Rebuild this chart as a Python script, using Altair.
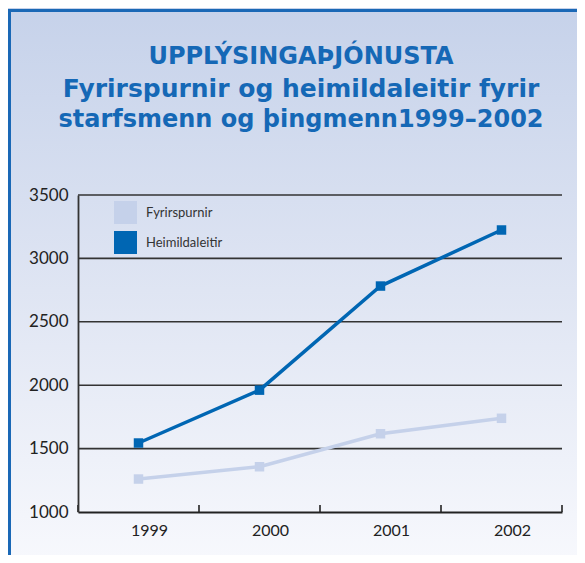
import altair as alt
import pandas as pd

years = ["1999", "2000", "2001", "2002"]
fyrirspurnir = [1260, 1357, 1617, 1739]
heimildaleitir = [1544, 1961, 2782, 3224]
series_names = ["Fyrirspurnir", "Heimildaleitir"]
series_colors = ["#c5d1ea", "#0066b3"]
y_ticks = [1000, 1500, 2000, 2500, 3000, 3500]
grid_values = [1500, 2000, 2500, 3000, 3500]

title_lines = [
    "UPPLÝSINGAÞJÓNUSTA",
    "Fyrirspurnir og heimildaleitir fyrir",
    "starfsmenn og þingmenn1999–2002",
]

W, H = 484, 317

df = pd.DataFrame({
    "year": years * 2,
    "value": fyrirspurnir + heimildaleitir,
    "series": [series_names[0]] * len(years) + [series_names[1]] * len(years),
})
grid_df = pd.DataFrame({"v": grid_values})
tick_df = pd.DataFrame({"year": years})
one = pd.DataFrame({"a": [0]})

xscale = alt.Scale(type="band", domain=years, paddingInner=0, paddingOuter=0)
yscale = alt.Scale(domain=[1000, 3500], nice=False, zero=False)
cscale = alt.Scale(domain=series_names, range=series_colors)

gradient = alt.LinearGradient(
    gradient="linear",
    stops=[
        alt.GradientStop(color="#c6d2ea", offset=0),
        alt.GradientStop(color="#dfe5f3", offset=0.5),
        alt.GradientStop(color="#f8f9fd", offset=1),
    ],
    x1=0, x2=0, y1=0, y2=1,
)

bg = alt.Chart(one).mark_rect(fill=gradient).encode(
    x=alt.value(-70), x2=alt.value(W + 30), y=alt.value(-187), y2=alt.value(H + 60)
)
frame = alt.Chart(one).mark_rect(fill="transparent", stroke="#1a68b6", strokeWidth=3).encode(
    x=alt.value(-68.5), x2=alt.value(W + 80), y=alt.value(-184.5), y2=alt.value(H + 80)
)

title_color = "#1568b6"
title_font = "DejaVu Sans"
t1 = alt.Chart(one).mark_text(
    font=title_font, fontSize=24, fontWeight="bold", color=title_color,
    align="center", baseline="alphabetic",
).encode(x=alt.value(223), y=alt.value(-131), text=alt.value(title_lines[0]))
t2 = alt.Chart(one).mark_text(
    font=title_font, fontSize=25, fontWeight="bold", color=title_color,
    align="center", baseline="alphabetic",
).encode(x=alt.value(223), y=alt.value(-98), text=alt.value(title_lines[1]))
t3 = alt.Chart(one).mark_text(
    font=title_font, fontSize=24, fontWeight="bold", color=title_color,
    align="center", baseline="alphabetic",
).encode(x=alt.value(223), y=alt.value(-68), text=alt.value(title_lines[2]))

grid = alt.Chart(grid_df).mark_rule(color="#333333", strokeWidth=1.6).encode(
    y=alt.Y("v:Q", scale=yscale),
    x=alt.value(0), x2=alt.value(W),
)

ticks_left = alt.Chart(tick_df).mark_rule(color="#222222", strokeWidth=1.6).encode(
    x=alt.X("year:O", scale=xscale, bandPosition=0),
    y=alt.value(H), y2=alt.value(H - 7),
)
ticks_right = alt.Chart(tick_df[tick_df["year"] == years[-1]]).mark_rule(color="#222222", strokeWidth=1.6).encode(
    x=alt.X("year:O", scale=xscale, bandPosition=1),
    y=alt.value(H), y2=alt.value(H - 7),
)
x_labels = alt.Chart(tick_df).mark_text(
    font="Lato", fontSize=16, color="#222222", align="center", baseline="alphabetic", dx=11,
).encode(
    x=alt.X("year:O", scale=xscale, bandPosition=0.5),
    y=alt.value(H + 24),
    text="year:N",
)

x_axis = alt.Axis(
    title=None, labels=False, ticks=False, grid=False, domainColor="#222222", domainWidth=2.2, zindex=1,
)
y_axis = alt.Axis(
    title=None, values=y_ticks, format="d", ticks=False, grid=False, domainColor="#333333", domainWidth=1.8,
    labelFont="Lato", labelFontSize=17, labelColor="#222222", labelPadding=10, zindex=1,
)

lines = alt.Chart(df).mark_line(strokeWidth=3.5).encode(
    x=alt.X("year:O", scale=xscale, axis=x_axis, bandPosition=0.5),
    y=alt.Y("value:Q", scale=yscale, axis=y_axis),
    color=alt.Color("series:N", scale=cscale, legend=None),
)
points = alt.Chart(df).mark_square(size=90, filled=True, opacity=1).encode(
    x=alt.X("year:O", scale=xscale, bandPosition=0.5),
    y=alt.Y("value:Q", scale=yscale),
    color=alt.Color(
        "series:N", scale=cscale,
        legend=alt.Legend(
            title=None, orient="none", legendX=36, legendY=6, symbolType="square",
            symbolSize=529, symbolStrokeWidth=0, symbolOpacity=1,
            labelFont="Lato", labelFontSize=13, labelColor="#333333", labelOffset=9, rowPadding=7,
        ),
    ),
)

chart = alt.layer(bg, frame, t1, t2, t3, grid, ticks_left, ticks_right, x_labels, lines, points).resolve_legend(
    color="independent"
).properties(
    width=W, height=H,
    autosize=alt.AutoSizeParams(type="none"),
    padding={"left": 70, "top": 187, "right": 15, "bottom": 43},
).configure_view(strokeWidth=0)

chart.save("out.html", embed_options={"renderer": "svg", "actions": False})
